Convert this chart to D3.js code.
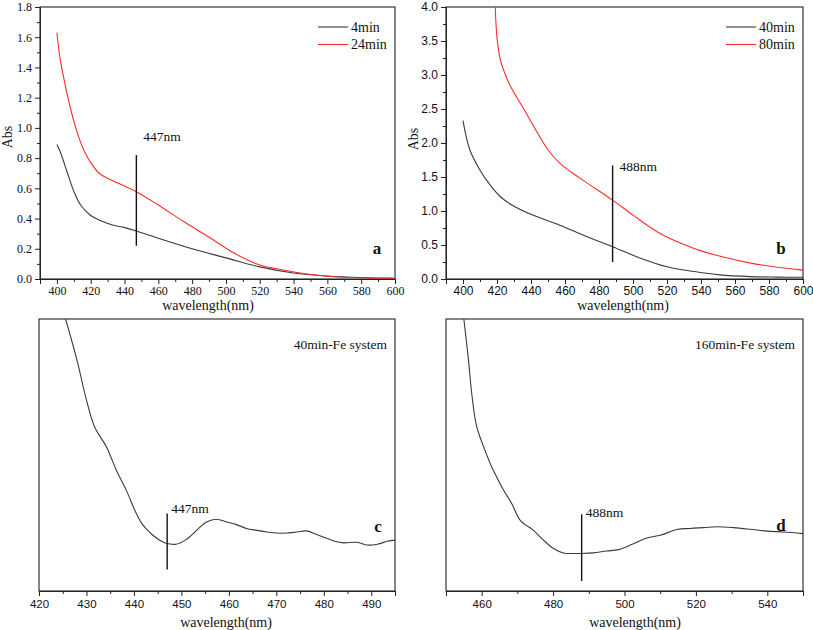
<!DOCTYPE html>
<html><head><meta charset="utf-8">
<script src="https://cdn.jsdelivr.net/npm/d3@7"></script>
<style>body{margin:0;background:#fff}svg{display:block}</style>
</head><body>
<svg id="chart" width="813" height="630"></svg>
<script>
// ---------- DATA ----------
// Panel a
const waveA4 = [400,402,406,410,414,420,426,433,440,447,460,480,500,520,540,560,580,600];
const abs4min = [0.89,0.84,0.71,0.58,0.49,0.42,0.385,0.357,0.34,0.318,0.27,0.20,0.14,0.08,0.04,0.02,0.01,0.005];
const waveA24 = [400,402,405,408,412,416,420,425,431,439,447,460,475,491,505,520,534,548,563,580,600];
const abs24min = [1.63,1.45,1.28,1.13,0.97,0.85,0.77,0.70,0.66,0.62,0.578,0.49,0.38,0.27,0.17,0.093,0.06,0.033,0.015,0.008,0.005];
// Panel b
const waveB40 = [400,404,410,416,422,430,441,457,473,488,504,520,536,551,569,585,600];
const abs40min = [2.33,1.90,1.60,1.38,1.21,1.07,0.94,0.79,0.62,0.475,0.31,0.18,0.11,0.06,0.035,0.028,0.025];
const waveB80 = [418.9,420,422,425,428,436,450,457,469,488,500,516,536,552,570,600];
const abs80min = [4.05,3.55,3.22,3.0,2.83,2.49,1.90,1.70,1.48,1.16,0.94,0.67,0.45,0.33,0.23,0.13];
// Panel c (arbitrary absorbance units)
const waveC = [425.6,428,430,431.7,434.2,436.3,438.4,440.5,441.9,444,446.1,447.2,448.9,451,453.2,455.3,457.4,459.5,461.6,463.7,465.9,468,470.1,472.2,474.3,476.4,478.5,480.7,482.1,484.2,487,489.2,491.3,493.4,495];
const absC = [100,84.9,70.2,60.4,53.0,44.4,37.0,28.5,24.2,20.5,18.0,17.4,17.2,18.9,22.3,25.4,26.4,25.4,24.4,23.0,22.3,21.7,21.3,21.3,21.7,22.1,20.8,19.3,18.4,17.7,17.9,16.9,17.2,18.3,18.7];
// Panel d (arbitrary absorbance units)
const waveD = [455,456.3,457.2,458.6,460.9,462.8,463.7,466.1,468.4,470.8,474.5,477.3,480.1,482.9,485.7,488,491.3,495,498.3,502.5,506.3,510,514.7,518.4,522.2,525.9,530.5,535.2,539.9,544.6,550];
const absD = [100,84.9,72.7,60.4,51.8,45.6,43.2,37.1,32.2,26.0,22.3,18.7,15.6,14.0,13.8,13.8,14.0,14.7,15.2,17.4,19.5,20.5,22.6,23.0,23.3,23.6,23.3,22.7,22.0,21.7,21.1];

// Ticks
const xTicksAB = [400,420,440,460,480,500,520,540,560,580,600];
const yTicksA = [0,0.2,0.4,0.6,0.8,1.0,1.2,1.4,1.6,1.8];
const yTicksB = [0,0.5,1.0,1.5,2.0,2.5,3.0,3.5,4.0];
const xTicksC = [420,430,440,450,460,470,480,490];
const xTicksD = [460,480,500,520,540];

// Annotation markers
const markA = {wave:447, lo:0.22, hi:0.82, text:"447nm"};
const markB = {wave:488, lo:0.25, hi:1.67, text:"488nm"};
const markC = {wave:447, lo:7.9, hi:28.5, text:"447nm"};
const markD = {wave:488, lo:3.7, hi:28.2, text:"488nm"};

const legendA = ["4min","24min"];
const legendB = ["40min","80min"];

// ---------- DRAW ----------
const svg = d3.select("#chart");
const SERIF = "'Liberation Serif','Times New Roman',serif";
const SANS = "'Liberation Sans',Arial,sans-serif";
const GRAY = "#3a3a3a", RED = "#ff2b2b";

function panel(cfg){
  const g = svg.append("g");
  const x = d3.scaleLinear().domain(cfg.xdom).range([cfg.x0,cfg.x1]);
  const y = d3.scaleLinear().domain(cfg.ydom).range([cfg.y1,cfg.y0]);
  const id = "clip"+cfg.name;
  svg.append("clipPath").attr("id",id).append("rect")
    .attr("x",cfg.x0).attr("y",cfg.y0).attr("width",cfg.x1-cfg.x0).attr("height",cfg.y1-cfg.y0);

  g.append("rect").attr("x",cfg.x0).attr("y",cfg.y0).attr("width",cfg.x1-cfg.x0).attr("height",cfg.y1-cfg.y0)
    .attr("fill","none").attr("stroke","#222").attr("stroke-width",1.1);

  const minorX = d3.range(cfg.xdom[0], cfg.xdom[1]+1e-9, cfg.xminor).filter(v=>!cfg.xticks.includes(v));
  const gxm = g.append("g").attr("transform",`translate(0,${cfg.y1})`)
    .call(d3.axisBottom(x).tickValues(minorX).tickSize(3).tickFormat(""));
  const gx = g.append("g").attr("transform",`translate(0,${cfg.y1})`)
    .call(d3.axisBottom(x).tickValues(cfg.xticks).tickSize(5).tickPadding(cfg.xpad).tickFormat(d3.format("d")));
  [gx,gxm].forEach(a=>{a.select(".domain").attr("stroke","#222"); a.selectAll(".tick line").attr("stroke","#222");});
  gx.selectAll("text").attr("font-family",cfg.tickFont).attr("font-size",cfg.tickSize).attr("fill","#111");

  if(cfg.yticks){
    const minorY = d3.range(cfg.ydom[0], cfg.ydom[1]+1e-9, cfg.yminor)
      .filter(v=>!cfg.yticks.some(t=>Math.abs(t-v)<1e-6));
    const gym = g.append("g").attr("transform",`translate(${cfg.x0},0)`)
      .call(d3.axisLeft(y).tickValues(minorY).tickSize(3).tickFormat(""));
    const gy = g.append("g").attr("transform",`translate(${cfg.x0},0)`)
      .call(d3.axisLeft(y).tickValues(cfg.yticks).tickSize(5).tickPadding(3).tickFormat(d3.format(".1f")));
    [gy,gym].forEach(a=>{a.select(".domain").attr("stroke","#222"); a.selectAll(".tick line").attr("stroke","#222");});
    gy.selectAll("text").attr("font-family",cfg.tickFont).attr("font-size",cfg.tickSize).attr("fill","#111");
    g.append("text").attr("transform",`translate(${cfg.absX},${cfg.absY}) rotate(-90)`)
      .attr("text-anchor","middle").attr("font-family",SERIF).attr("font-size",14).attr("fill","#111").text("Abs");
  }

  g.append("text").attr("x",cfg.titleX).attr("y",cfg.y1+cfg.titleDy)
    .attr("text-anchor","middle").attr("font-family",SERIF).attr("font-size",14).attr("fill","#111")
    .text("wavelength(nm)");

  const line = d3.line().x(d=>x(d[0])).y(d=>y(d[1])).curve(d3.curveCatmullRom.alpha(0.5));
  cfg.series.forEach(s=>{
    g.append("path").datum(d3.zip(s.x,s.y)).attr("d",line).attr("fill","none")
      .attr("stroke",s.color).attr("stroke-width",1.1).attr("clip-path",`url(#${id})`);
  });

  const m = cfg.mark;
  g.append("line").attr("x1",x(m.wave)).attr("x2",x(m.wave)).attr("y1",y(m.lo)).attr("y2",y(m.hi))
    .attr("stroke","#111").attr("stroke-width",1.4);
  g.append("text").attr("x",x(m.wave)+cfg.markDx).attr("y",y(m.hi)+cfg.markDy)
    .attr("font-family",SERIF).attr("font-size",13.5).attr("fill","#111").text(m.text);

  if(cfg.legend){
    cfg.legend.forEach((name,i)=>{
      const ly = cfg.y0 + 20 + i*17.5;
      g.append("line").attr("x1",cfg.x1-77).attr("x2",cfg.x1-47).attr("y1",ly).attr("y2",ly)
        .attr("stroke",cfg.series[i].color).attr("stroke-width",1.1);
      g.append("text").attr("x",cfg.x1-44).attr("y",ly+4.5).attr("font-family",SERIF)
        .attr("font-size",14).attr("fill","#111").text(name);
    });
  }
  if(cfg.note){
    g.append("text").attr("x",cfg.x1-8).attr("y",cfg.y0+30).attr("text-anchor","end")
      .attr("font-family",SERIF).attr("font-size",13.5).attr("fill","#111").text(cfg.note);
  }
  g.append("text").attr("x",cfg.letterX).attr("y",cfg.letterY).attr("text-anchor","middle")
    .attr("font-family",SERIF).attr("font-weight","bold").attr("font-size",17).attr("fill","#111").text(cfg.letter);
}

panel({name:"a",x0:40,x1:395,y0:7,y1:279,xdom:[390,600],ydom:[0,1.8],
  xticks:xTicksAB,xminor:10,xpad:2,yticks:yTicksA,yminor:0.1,tickFont:SERIF,tickSize:12,absX:12,absY:137,titleDy:31,titleX:208,
  series:[{x:waveA4,y:abs4min,color:GRAY},{x:waveA24,y:abs24min,color:RED}],
  mark:markA,markDx:7,markDy:-14,legend:legendA,letter:"a",letterX:377,letterY:254});

panel({name:"b",x0:446,x1:803,y0:7,y1:279,xdom:[390,600],ydom:[0,4],
  xticks:xTicksAB,xminor:10,xpad:2,yticks:yTicksB,yminor:0.25,tickFont:SANS,tickSize:12,absX:418,absY:139,titleDy:31,titleX:623,
  series:[{x:waveB40,y:abs40min,color:GRAY},{x:waveB80,y:abs80min,color:RED}],
  mark:markB,markDx:7,markDy:6,legend:legendB,letter:"b",letterX:781,letterY:254});

panel({name:"c",x0:39,x1:395,y0:319,y1:591,xdom:[420,495],ydom:[0,100],
  xticks:xTicksC,xminor:5,xpad:4,tickFont:SANS,tickSize:11.5,titleDy:36,titleX:226,
  series:[{x:waveC,y:absC,color:GRAY}],
  mark:markC,markDx:4,markDy:0,note:"40min-Fe system",letter:"c",letterX:378,letterY:532});

panel({name:"d",x0:446,x1:803,y0:319,y1:591,xdom:[450,550],ydom:[0,100],
  xticks:xTicksD,xminor:10,xpad:4,tickFont:SANS,tickSize:11.5,titleDy:36,titleX:635,
  series:[{x:waveD,y:absD,color:GRAY}],
  mark:markD,markDx:4,markDy:3,note:"160min-Fe system",letter:"d",letterX:781,letterY:531});
</script>
</body></html>
